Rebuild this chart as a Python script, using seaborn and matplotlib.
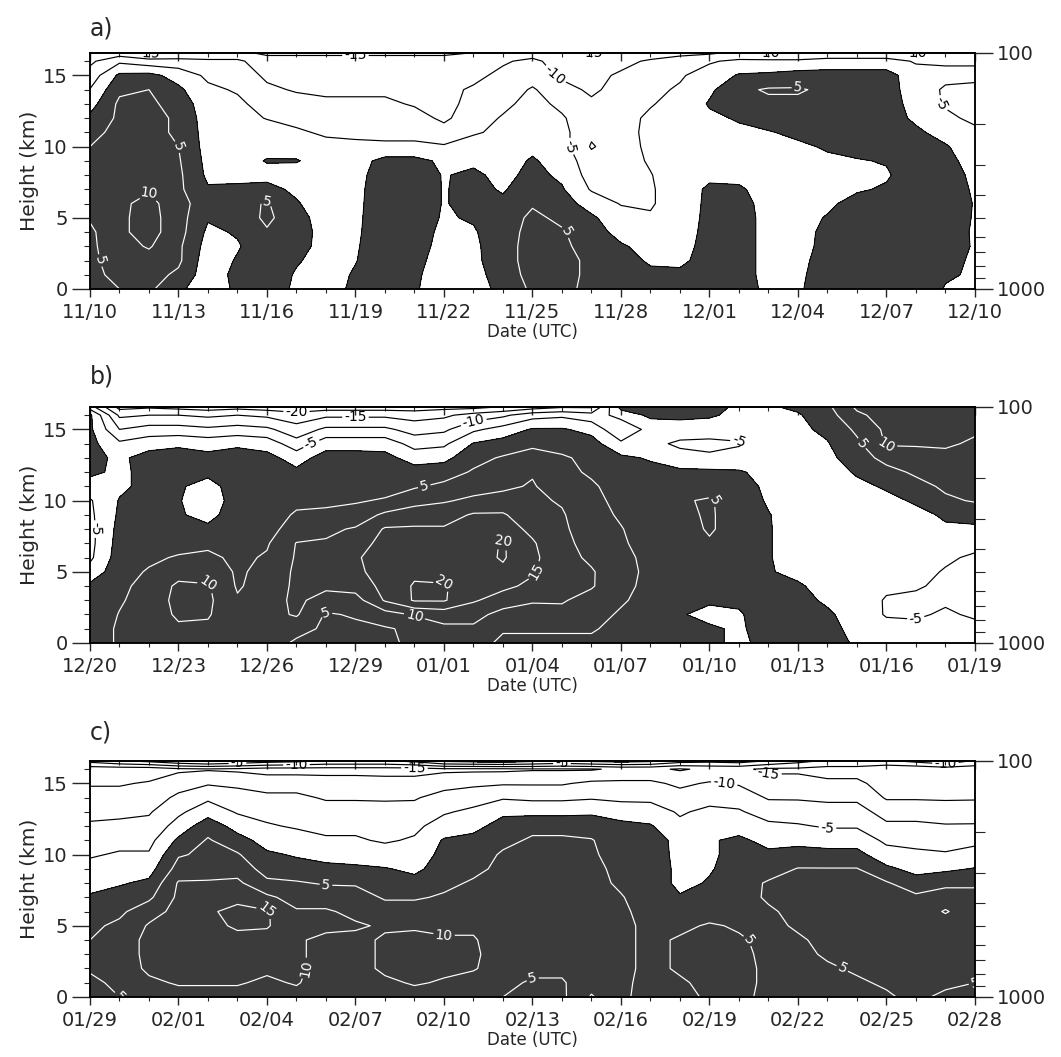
import numpy as np
import matplotlib
matplotlib.use("Agg")
import matplotlib.pyplot as plt
from matplotlib.ticker import NullFormatter
import seaborn as sns

sns.set_theme(style="ticks")
plt.rcParams["font.family"] = ["DejaVu Sans"]

# grid of the analysis: one column per day, rows at these heights (km)
heights = [0, 1, 2, 3, 4, 5, 6, 7, 8, 9, 10, 11, 12, 13, 14, 15, 16, 16.6]
days = list(range(31))

ticks_a = ["11/10", "11/13", "11/16", "11/19", "11/22", "11/25",
           "11/28", "12/01", "12/04", "12/07", "12/10"]
ticks_b = ["12/20", "12/23", "12/26", "12/29", "01/01", "01/04",
           "01/07", "01/10", "01/13", "01/16", "01/19"]
ticks_c = ["01/29", "02/01", "02/04", "02/07", "02/10", "02/13",
           "02/16", "02/19", "02/22", "02/25", "02/28"]

# vertical profiles, one per day, bottom to top
profiles_a = [
    [4, 4, 4, 4, 4, 5.5, 6, 6, 6, 6, 5, 3, 1, -2, -4.8, -8, -11, -15],
    [5, 6, 7, 8, 9, 9, 9, 8, 8, 7, 7, 7, 6, 6, 4, 1, -6, -13],
    [6, 7, 8, 10.5, 12, 12, 11.5, 9.5, 8, 8, 7, 7, 7, 6, 5, 1.5, -8, -16],
    [1, 4, 6, 6, 7, 7, 7, 6, 6, 5.5, 5, 4, 4, 3, 1, -2, -8, -15],
    [-3, -3, -3, -2, -1, 0.5, 2, 0.5, -1, -1.5, -2, -2, -2.5, -3, -4, -6, -9, -14],
    [1, 1.5, 0.5, -0.5, 0.5, 2, 3, 1, -1.5, -2, -2.5, -3, -3.5, -4, -5.5, -7, -9, -14],
    [3, 3, 3, 3.5, 4.5, 6, 5.5, 1.5, -1.5, 0.3, -1.5, -3, -5.2, -7, -9, -11, -13, -16],
    [-1, -0.5, 0.5, 2, 3, 2, 0.5, -1, -2, 0.3, -2, -4.5, -6, -8, -10.5, -12, -13, -16],
    [-2, -2, -2, -2, -2.5, -2.5, -3, -3, -3, -2, -4, -5.5, -7, -9, -11, -12, -13, -16],
    [1, 0.5, -0.2, -0.5, -0.8, -1, -1.2, -1.4, -1.6, -2, -4.5, -5.5, -7, -9, -11, -12, -13, -16],
    [3, 3, 3, 3, 3, 3, 3, 3, 2.5, 1.5, -4, -6.5, -7.5, -9, -11, -12, -13, -16],
    [0.3, 0.5, 1, 1.5, 2, 2.5, 3, 3, 2.5, 1.5, -4, -6.5, -8, -10.5, -11, -12, -13, -16],
    [-1.5, -1.5, -1.5, -1.2, -1, -0.5, -0.3, -0.3, -0.3, -1, -4.5, -8, -11, -11.5, -11, -12, -13, -16],
    [-1.5, -1.5, -1.2, -1, -0.5, 0.5, 1.5, 1.5, 1, -1, -3, -5.5, -7, -8.5, -9.5, -11, -12, -15],
    [1, 2, 3, 3, 3, 2.5, 1, -0.5, -1.5, -2, -3, -4, -4.6, -6, -7.5, -9, -10.5, -14],
    [6, 7, 7, 7, 6.5, 6, 4.5, 3, 1.5, 0.5, -1, -2, -3, -3.5, -4.5, -7, -9, -12],
    [6, 6.5, 6.5, 6, 5.5, 4, 2, 0.5, -1, -2, -3, -3.5, -4.5, -6, -8, -11, -12, -14],
    [4, 4, 4, 3, 2, 0.8, -2, -5.5, -7, -8, -10.5, -9, -8, -9, -11, -12, -13, -15],
    [2, 2, 1.5, 0.5, -1.5, -3, -5.3, -6, -6.5, -7, -7, -6.5, -6, -7, -8, -9, -12, -15],
    [1, 0.8, -0.5, -1.5, -3, -4.5, -5.5, -5.5, -5.2, -4.5, -4, -4, -4.5, -5.2, -6, -7, -9, -14],
    [0.8, 0.5, -0.5, -1, -1.5, -2, -2.5, -2.5, -2.5, -2.5, -2.5, -3, -3.5, -4, -4.5, -5.5, -7, -12],
    [1.5, 1.5, 1, 1, 1, 1, 1, 0.8, -1, -2, -2, -1.5, -1, 0.5, -1, -3, -5.5, -11],
    [2, 2, 2, 2, 2, 2, 1.5, 0.5, -1, -1.5, -1.5, -1, 0.5, 3, 4, 0.5, -4, -9],
    [-1, -1.5, -1.5, -1.5, -1.5, -1.5, -1.5, -1.5, -1.5, -1.5, -1.5, -0.3, 2, 4, 5.5, 1, -4, -10],
    [-0.5, -0.8, -1, -1.2, -1.5, -1.5, -1.5, -1.5, -1.5, -1.5, -0.8, 1, 3, 4, 5.5, 2, -4, -10],
    [2, 2, 1.5, 1, 1, 0.3, -0.8, -1.2, -1.2, -0.8, 0.5, 2, 3, 4, 4, 2, -3, -9],
    [3, 3, 3, 3, 2.5, 2, 1.5, -0.5, -1, -0.3, 1.5, 2.5, 3, 3, 3, 2, -3, -9],
    [3, 3, 3, 3, 3, 2.5, 2, 0.5, -0.5, 0.3, 1.5, 2, 2.5, 2.5, 2.5, 2, -3, -9],
    [3, 3, 3, 3, 3, 3, 3, 3, 2.5, 2.5, 2, 1, -1, -2, -3, -3, -5.5, -10],
    [-0.3, 0.5, 1, 1.5, 2, 2, 2, 2, 2, 1.5, 0.5, -2, -4, -5.5, -5.5, -4, -5.5, -10],
    [-1, -0.5, -0.5, -0.3, -0.5, -0.3, -0.2, -0.5, -1, -2, -3, -4, -6, -7, -6, -4, -5.5, -10],
]

profiles_b = [
    [3, 3, 2, 1.5, 1, -3, -6, -6.5, -6.5, -6, -5.5, -2, 1, 1.5, 1.5, 1, 1, -8],
    [5.5, 5.5, 5.2, 4.5, 4, 3, 2.5, 2, 1.5, 0.8, 0.3, -1, -1, -1, -4, -10, -16, -22],
    [6, 6, 6.5, 7, 6.5, 5.5, 4, 3, 2.5, 2, 1.5, 1.5, 1.5, 2, -2, -8, -15, -21],
    [7, 9, 11, 11.5, 11, 8, 5.5, 3, 1.5, 0.5, 0.3, 0.5, 1.5, 2.5, -1, -8, -15, -22],
    [7, 9, 10.5, 11, 10.5, 7.5, 6, 4, 1, -1.5, -2.5, -1.5, 1, 1.5, -2, -9, -16, -23],
    [6, 6, 6, 5.5, 4.5, 4.5, 4, 3.5, 3, 2.5, 2, 2, 2, 2.5, -1, -8, -15, -22],
    [8, 9, 8.5, 8, 7, 6, 5.5, 4.5, 3.5, 3, 2.5, 2, 2, 1.5, -2, -9, -16, -23],
    [4, 7, 10.5, 11, 11, 11, 10.5, 10.2, 7, 5.5, 4, 3, 1, -2, -8, -13, -18, -24],
    [3, 4, 4.5, 8, 11, 12, 11.5, 10.5, 9, 6, 4, 3, 2.5, 2, -2, -9, -16, -23],
    [3, 4, 5.5, 8, 12, 14, 14.5, 13, 10.5, 7, 4.5, 3, 2.5, 2, -2, -9, -16, -23],
    [4, 4.5, 8, 15.5, 16.5, 17, 17, 16.5, 15.5, 11, 5.5, 3, 2, 1.5, -2, -9, -16, -23],
    [6, 6, 10.5, 20.5, 20.5, 19, 17, 16.5, 15.5, 13, 8, 4.5, 2, -2, -7, -12, -17, -23],
    [9, 9, 12, 20.5, 20.5, 18, 17, 16.5, 15.5, 13, 9.5, 6, 3, -1.5, -6, -11, -16, -22],
    [7, 9, 12, 15.5, 17, 18, 18, 17, 16, 15.5, 11, 8, 5.5, 3.5, 0.3, -6, -13, -22],
    [4, 5.5, 8, 13, 16, 19, 20.5, 20.5, 17, 15.5, 12, 9, 7, 5.5, 2, -3, -11, -20],
    [4, 5.5, 8, 10.5, 14, 15.5, 16, 15.5, 14, 12, 11, 10.5, 9.5, 7, 4, 0.5, -7, -18],
    [4, 5.5, 8.5, 10.5, 11.5, 12, 12, 11.5, 11, 10.5, 9.5, 7, 6, 5.5, 3.5, 0.5, -6, -16],
    [4, 5.5, 6.5, 8, 10.5, 10.5, 9, 8, 7, 6.5, 6, 5.5, 4.5, 4, 2, -1.5, -8, -16],
    [3, 3.5, 4.5, 5.5, 6, 6.5, 6, 5.5, 5.2, 4.5, 4, 3.5, 2.5, 1, -4, -9.5, -3, 2],
    [2, 2.5, 3, 3.5, 4, 4, 4, 3.5, 3, 2.5, 2, 1.5, 1.5, -0.5, -3.5, -3, 1, 3],
    [1, 0.5, 0.3, 0.5, 1, 1.5, 2, 2.5, 3, 4, 4.5, 2.5, 1, -3, -6, -2, 1, 2],
    [1, 0.5, -1, 0.5, 2, 3, 4, 4.5, 5.5, 5.5, 5.5, 3, 1, -4, -6.5, -2, 0.5, 2],
    [-1, -0.5, -0.3, 0.5, 1, 2, 3, 3, 3, 3, 2.5, 2, 0.5, -3, -5.5, -2.5, -1, -1],
    [1.5, 1.5, 1.5, 1, 0.5, 0.3, 0.3, 0.3, 0.3, 0.2, -0.5, -1, -1.5, -2, -2.5, -2, -1, -0.5],
    [2, 2, 1.5, 1, 0.5, -1, -2, -2, -2, -2, -2, -2, -2, -2, -1.5, -1, -0.5, 1],
    [1.5, 1, 0.5, -0.5, -1.5, -2, -2, -2, -2, -2, -2.5, -2.5, -2, -1, -0.3, 1, 3, 4],
    [-0.5, -1, -1.5, -2, -3, -4, -3, -2, -2, -2, -2, -1, 0.5, 2, 4, 6, 9, 11],
    [-1.5, -3, -5.5, -5.5, -4, -3, -2, -1.5, -1.5, -1.5, -1, 0.5, 3, 7, 10.5, 11, 12, 11],
    [-1.5, -3, -6, -6, -4.5, -3, -2, -1.5, -1.5, -1, 0.5, 3, 6, 8, 10.5, 11, 12, 10.5],
    [-1, -2, -4, -6, -6, -5.5, -4, -2, -0.5, 0.5, 4, 6, 8, 9, 10.5, 11, 11, 10.5],
    [-1.5, -3, -6, -5.5, -6, -6.5, -6, -3, -0.5, 1, 5.5, 7, 8, 9, 9.5, 10.5, 11, 10.5],
]

profiles_c = [
    [3, 4, 5.5, 5.5, 5, 4, 3, 0.5, -1.5, -3.5, -5.5, -7.5, -9.5, -11, -13, -15.5, -18, -8],
    [5, 6, 7, 8, 8, 6, 4, 2, -0.5, -2.5, -4.5, -6.5, -9, -11, -13, -15.5, -18, -5],
    [7, 9, 11, 11, 11, 10.5, 8, 4, 1, -2, -4.5, -6.5, -8.5, -10.5, -12.5, -14.5, -18, -3],
    [8, 10.5, 11, 12, 12, 12, 11.5, 11, 10.5, 7, 4.5, 1, -3, -6, -9, -12, -16, 0],
    [8, 10.5, 11, 12, 12.5, 14, 14.5, 13, 10.5, 8, 6, 5.5, 3, -2, -6, -10.5, -15.5, 2],
    [8, 10.5, 11, 12, 14, 15.5, 16, 14, 11, 8, 5.5, 2, -2, -5.5, -8, -11, -16, 0],
    [7, 9, 11, 12, 13, 15.5, 15.5, 11, 6, 3, 0.8, -2, -4.5, -6.5, -9, -12, -17, -2],
    [8, 10.5, 11, 11, 10.5, 11, 10.5, 8, 5.5, 2, -0.5, -3, -5.5, -7, -9, -12, -17, -3],
    [6, 7, 8, 8, 9, 11, 10.5, 8, 4.5, 1.5, -2, -4.5, -6, -8, -10.5, -12.5, -17, -5],
    [6, 7, 8, 8, 9, 10.5, 9, 7, 4.5, 1, -2.5, -4.5, -6, -8, -10.5, -12.5, -17, -5],
    [7, 9, 11, 11, 10.5, 9.5, 7, 4.5, 2, 0.3, -3, -5.5, -6.5, -8.5, -10.5, -13, -17, -5],
    [8, 10.5, 11, 11.5, 11, 9.5, 7, 4.5, 1.5, -1, -3, -4.5, -6, -8, -10.5, -13, -17, -3],
    [7, 9.5, 11, 11, 10.5, 9, 7, 5.5, 4, 2, 1.5, 0.5, -3, -5.5, -8, -12, -16, 2],
    [6, 7.5, 10.5, 11, 10.5, 9, 7, 6, 5.5, 4, 3, 1.5, -1.5, -4, -7, -11, -16, 3],
    [5, 6, 7, 7, 7, 7, 7, 7, 6.5, 6, 5.5, 4, 2, -1, -5.5, -10.5, -16, 4],
    [4, 4.5, 6, 6.5, 7, 7, 7, 7, 7, 6.5, 6, 5.5, 4, -1.5, -6, -10.5, -15.5, 2],
    [4, 4.5, 6, 6.5, 7, 7, 7, 7, 7, 6.5, 6, 5.5, 4, -1.5, -6, -10.5, -15.5, 0],
    [10.5, 8, 7, 6.5, 6.5, 6.5, 6.5, 6.5, 6, 6, 5.5, 5.2, 3.5, -1, -5.5, -9, -15.5, 2],
    [6, 6, 6, 6, 6, 6, 5.5, 5.2, 4.5, 4, 3.5, 3, 1.5, -2.5, -6, -9, -14, 3],
    [3, 3.5, 4, 4, 4, 4, 4, 3.5, 3.5, 3.5, 3.5, 3, 0.5, -3, -6, -9, -14, 2],
    [4, 4.5, 5.5, 5.5, 5.5, 4, 2, 0.5, -1.5, -1.5, -2, -2, -4, -5.5, -8, -11, -15.5, -2],
    [5.5, 6, 6.5, 6.5, 6, 5.5, 3, 1.5, 0.5, -0.5, -1, -0.5, -2, -4, -6.5, -9.5, -14, -3],
    [6, 6.5, 6.5, 6, 5.5, 4.5, 4, 3.5, 3, 2.5, 2, 1, -2, -4.5, -7, -10.5, -14, -2],
    [4, 4, 4, 4, 4, 4, 4.5, 5.5, 5.5, 3, 1, -1.5, -4, -7, -10.5, -13, -16, -5],
    [3, 3.5, 4, 4, 4.5, 5.5, 6, 6, 6, 5.2, 2, -1.5, -4.5, -7.5, -10.5, -13, -16, -8],
    [3.5, 4, 4.5, 5.5, 6, 6.5, 6.5, 6.5, 6.5, 5.2, 1.5, -2, -5.5, -8, -11, -14, -17, -10.5],
    [4, 4.5, 5.5, 6, 6.5, 6.5, 6.5, 6.5, 6.5, 5.2, 1.5, -2, -5.5, -8, -11, -14, -17, -10.5],
    [4.5, 5.5, 6, 6.5, 6.5, 6.5, 6.5, 6.5, 5.5, 1, -3, -6, -9, -12, -15.5, -17, -19, -10.5],
    [6, 6.5, 6.5, 6.5, 6.5, 6.5, 6.5, 6, 2, -1.5, -4, -6.5, -9, -12, -15.5, -17, -19, -8],
    [4, 6, 6.5, 6.5, 6.5, 7, 10.5, 7, 4, -1, -4.5, -7, -9.5, -13, -15.5, -16, -18, -5],
    [4, 5, 6, 6, 6, 6, 6.5, 6, 4.5, 0.3, -3.5, -6, -9.5, -12.5, -15.5, -17, -18, -10.5],
]

neg_levels = [-30, -25, -20, -15, -10, -5]
pos_levels = [5, 10, 15, 20]
shade = "#3b3b3b"

fig = plt.figure(figsize=(10.61, 10.57), dpi=100)


def draw_panel(rect, profiles, ticks, letter, label_y):
    field = np.array(profiles).T
    ax = fig.add_axes(rect)
    ax.contourf(days, heights, field, levels=[0, 100], colors=[shade])
    neg = ax.contour(days, heights, field, levels=neg_levels, colors="black",
                     linewidths=0.85, linestyles="solid")
    ax.contour(days, heights, field, levels=[0], colors="black", linewidths=0.7)
    pos = ax.contour(days, heights, field, levels=pos_levels, colors="white",
                     linewidths=0.85)
    ax.clabel(neg, fmt="%d", fontsize=10, inline=True, inline_spacing=2)
    ax.clabel(pos, fmt="%d", fontsize=10, inline=True, inline_spacing=2)

    ax.set_xlim(0, 30)
    ax.set_ylim(0, 16.6)
    ax.set_xticks(range(0, 31, 3))
    ax.set_xticklabels(ticks)
    ax.set_xticks(days, minor=True)
    ax.set_yticks([0, 5, 10, 15])
    ax.set_yticks(range(0, 17), minor=True)
    ax.tick_params(axis="x", which="major", direction="out", length=6, width=1,
                   labelsize=14, pad=4)
    ax.tick_params(axis="x", which="minor", direction="out", length=3, width=0.8)
    ax.tick_params(axis="y", which="major", direction="out", length=13, width=1,
                   labelsize=14, pad=3)
    ax.tick_params(axis="y", which="minor", direction="out", length=4, width=0.8)
    ax.set_xlabel("Date (UTC)", fontsize=12, labelpad=1)
    ax.set_ylabel("Height (km)", fontsize=14.5, labelpad=3)
    for s in ax.spines.values():
        s.set_linewidth(1.1)
        s.set_color("black")

    top = ax.secondary_xaxis("top")
    top.set_xticks(range(0, 31, 3))
    top.set_xticks(days, minor=True)
    top.set_xticklabels([])
    top.tick_params(which="major", direction="in", length=6, width=1)
    top.tick_params(which="minor", direction="in", length=3, width=0.8)

    # pressure scale on the right
    ax2 = ax.twinx()
    ax2.set_yscale("log")
    ax2.set_ylim(1000, 100)
    ax2.set_yticks([100, 1000])
    ax2.set_yticklabels(["100", "1000"])
    ax2.set_yticks(range(200, 1000, 100), minor=True)
    ax2.yaxis.set_minor_formatter(NullFormatter())
    ax2.tick_params(axis="y", which="major", direction="out", length=13, width=1,
                    labelsize=14, pad=3)
    ax2.tick_params(axis="y", which="minor", direction="out", length=7, width=0.8)
    for s in ax2.spines.values():
        s.set_linewidth(1.1)
        s.set_color("black")

    fig.text(rect[0], label_y, letter, fontsize=17, ha="left", va="bottom")


left, width, height = 0.0848, 0.8341, 0.2236
draw_panel([left, 0.7266, width, height], profiles_a, ticks_a, "a)", 0.962)
draw_panel([left, 0.3917, width, height], profiles_b, ticks_b, "b)", 0.632)
draw_panel([left, 0.0568, width, height], profiles_c, ticks_c, "c)", 0.296)

fig.savefig("out.png", dpi=100, facecolor="white")
